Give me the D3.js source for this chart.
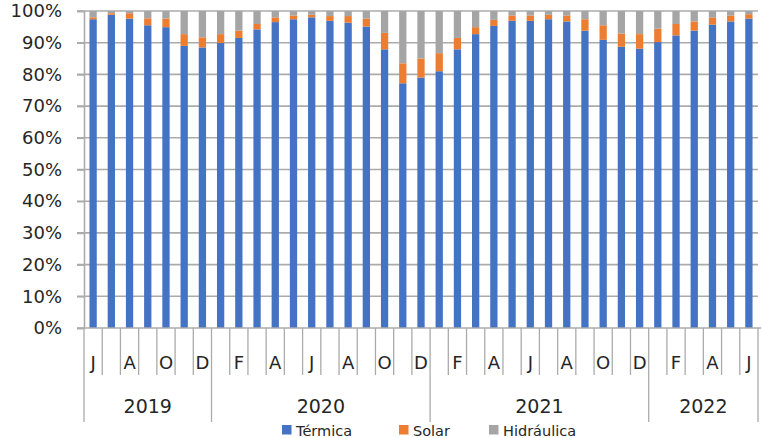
<!DOCTYPE html>
<html>
<head>
<meta charset="utf-8">
<script src="https://cdn.jsdelivr.net/npm/d3@7"></script>
<style>
  html, body { margin: 0; padding: 0; background: #fff; }
  svg { display: block; }
  text { font-family: "DejaVu Sans", sans-serif; fill: #262626; }
</style>
</head>
<body>
<svg id="chart" width="762" height="438"></svg>
<script>
// ---- Data ----
const years = ["2019", "2020", "2021", "2022"];
const yearMonths = [
  ["J","J","A","S","O","N","D"],
  ["E","F","M","A","M","J","J","A","S","O","N","D"],
  ["E","F","M","A","M","J","J","A","S","O","N","D"],
  ["E","F","M","A","M","J"]
];
const termica = [97.4, 98.8, 97.6, 95.5, 94.9, 89.0, 88.5,
  89.9, 91.5, 94.2, 96.5, 97.4, 98.0, 96.9, 96.3, 95.1, 87.9, 77.2, 79.0,
  81.0, 87.9, 92.7, 95.3, 96.9, 96.9, 97.4, 96.7, 93.8, 90.9, 88.7, 88.1,
  90.2, 92.3, 93.8, 95.7, 96.7, 97.6];
const solar = [0.6, 0.5, 1.7, 2.2, 2.7, 3.7, 3.2,
  2.8, 2.3, 1.7, 1.5, 1.2, 0.8, 1.5, 2.1, 2.5, 5.2, 6.3, 6.0,
  5.7, 3.6, 2.2, 1.9, 1.7, 1.7, 1.4, 1.9, 3.6, 4.6, 4.2, 4.6,
  4.2, 3.6, 2.9, 2.3, 1.9, 1.4];
const hidraulica = termica.map((t, i) => +(100 - t - solar[i]).toFixed(1));
const seriesNames = ["Térmica", "Solar", "Hidráulica"];
const seriesColors = ["#4472C4", "#ED7D31", "#A5A5A5"];
const yTicks = [0, 10, 20, 30, 40, 50, 60, 70, 80, 90, 100];

(function () {
// ---- Build rows ----
const rows = [];
yearMonths.forEach((ms, yi) => ms.forEach((m, mi) => {
  rows.push({ key: years[yi] + "-" + mi, year: years[yi], month: m });
}));
rows.forEach((r, i) => {
  r["Térmica"] = termica[i];
  r["Solar"] = solar[i];
  r["Hidráulica"] = hidraulica[i];
});

const svg = d3.select("#chart");
const pLeft = 84, pRight = 758, pTop = 11, pBottom = 328;

const x = d3.scaleBand().domain(rows.map(r => r.key)).range([pLeft, pRight]).paddingInner(0.6).paddingOuter(0.3);
const y = d3.scaleLinear().domain([0, 100]).range([pBottom, pTop]);
const color = d3.scaleOrdinal().domain(seriesNames).range(seriesColors);

// gridlines
svg.append("g").selectAll("line").data(yTicks.filter(t => t > 0)).join("line")
  .attr("x1", pLeft - 7).attr("x2", pRight)
  .attr("y1", d => y(d)).attr("y2", d => y(d))
  .attr("stroke", "#ABABAB").attr("stroke-width", 1.6);

// y axis
const yAxis = svg.append("g").attr("transform", `translate(${pLeft},0)`)
  .call(d3.axisLeft(y).tickValues(yTicks).tickFormat(d => d + "%").tickSize(7).tickPadding(15));
yAxis.select(".domain").attr("stroke", "#ABABAB").attr("stroke-width", 1.6);
yAxis.selectAll(".tick line").attr("stroke", "#ABABAB").attr("stroke-width", 1.6);
yAxis.selectAll(".tick text").style("font-family", "DejaVu Sans").style("font-size", "18px").attr("fill", "#262626");

// stacked bars
const stacked = d3.stack().keys(seriesNames)(rows);
svg.append("g").selectAll("g").data(stacked).join("g")
  .attr("fill", d => color(d.key))
  .selectAll("rect").data(d => d).join("rect")
  .attr("x", d => x(d.data.key))
  .attr("width", x.bandwidth())
  .attr("y", d => y(d[1]))
  .attr("height", d => y(d[0]) - y(d[1]));

// x axis line
svg.append("line").attr("x1", pLeft - 7).attr("x2", 761).attr("y1", pBottom).attr("y2", pBottom)
  .attr("stroke", "#ABABAB").attr("stroke-width", 1.6);

// category boundaries
const step = x.step();
const x0 = pLeft;
const bounds = d3.range(rows.length + 1);
const yearStarts = [];
let acc = 0;
yearMonths.forEach(ms => { yearStarts.push(acc); acc += ms.length; });
yearStarts.push(acc);
svg.append("g").selectAll("line").data(bounds).join("line")
  .attr("x1", i => x0 + i * step).attr("x2", i => x0 + i * step)
  .attr("y1", pBottom)
  .attr("y2", i => yearStarts.includes(i) ? 422 : 375)
  .attr("stroke", "#ABABAB").attr("stroke-width", 1.3);

// month labels (every other)
svg.append("g").selectAll("text").data(rows.filter((r, i) => i % 2 === 0)).join("text")
  .attr("x", d => x(d.key) + x.bandwidth() / 2)
  .attr("y", 369)
  .attr("text-anchor", "middle")
  .style("font-size", "18px")
  .text(d => d.month);

// year labels
svg.append("g").selectAll("text").data(years).join("text")
  .attr("x", (d, i) => x0 + (yearStarts[i] + yearStarts[i + 1]) / 2 * step)
  .attr("y", 413)
  .attr("text-anchor", "middle")
  .style("font-size", "19px")
  .text(d => d);

// legend
const legendX = [282, 399, 489];
const lg = svg.append("g").selectAll("g").data(seriesNames).join("g")
  .attr("transform", (d, i) => `translate(${legendX[i]},430)`);
lg.append("rect").attr("x", 0).attr("y", -5).attr("width", 9.5).attr("height", 9.5).attr("fill", d => color(d));
lg.append("text").attr("x", 14).attr("y", 5.5).style("font-size", "14.5px").text(d => d);
})();
</script>
</body>
</html>
